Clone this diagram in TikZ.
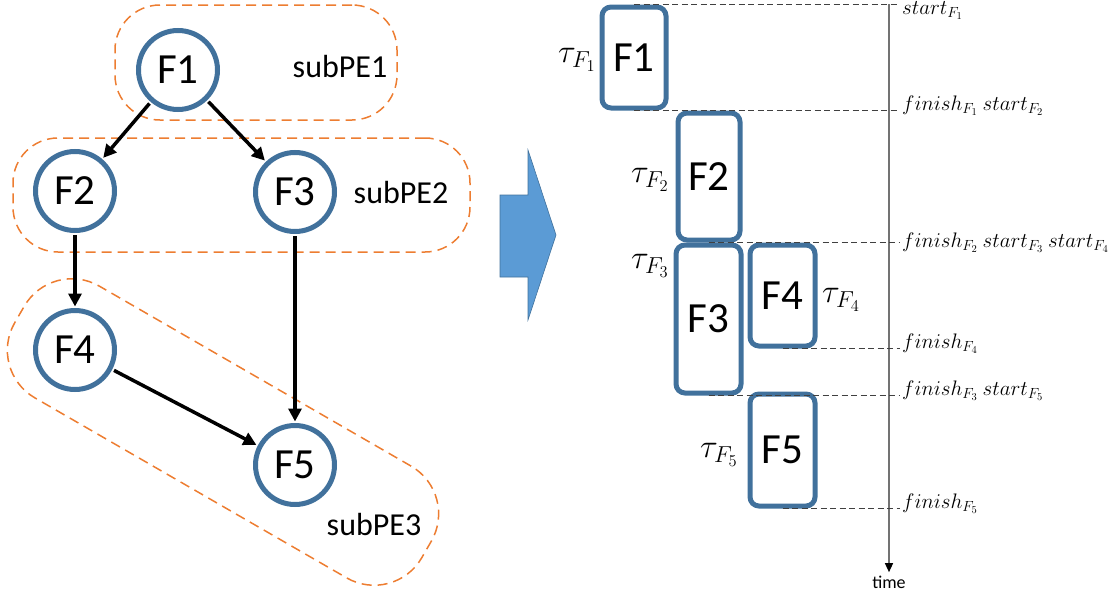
\RequirePackage{fix-cm}
\documentclass[tikz,border=0pt]{standalone}
\usepackage{fontspec}
\setmainfont{Carlito}
\usetikzlibrary{arrows.meta,positioning}

\definecolor{fblue}{HTML}{41719C}
\definecolor{ablue}{HTML}{5B9BD5}
\definecolor{peorange}{HTML}{ED7D31}

\newcommand{\tvar}{
\def\ax{889}   % time axis
\def\lx{900}   % left end of time labels
}
\newcommand{\fsize}{\fontsize{43}{50}\selectfont}
\newcommand{\tsize}{\fontsize{33}{38}\selectfont}
\newcommand{\lsize}{\fontsize{21}{24}\selectfont}

\tikzset{
  fcirc/.style={circle,draw=fblue,line width=5pt,fill=white,minimum size=79pt,inner sep=0pt,font=\fsize},
  fbox/.style={rectangle,rounded corners=9pt,draw=fblue,line width=5pt,fill=white,inner sep=0pt,font=\fsize},
  subpe/.style={rectangle,draw=peorange,line width=1.5pt,dash pattern=on 10pt off 6pt,rounded corners=45pt,inner sep=0pt},
  pelbl/.style={font=\fontsize{32}{38}\selectfont},
  dep/.style={line width=3.5pt,-{Triangle[length=13pt,width=13pt]},shorten >=1.5pt,shorten <=2pt},
  tline/.style={draw=black!75,line width=0.9pt,dash pattern=on 6pt off 3.5pt},
  taxis/.style={draw=black!55,line width=1.3pt,-{Triangle[length=9pt,width=8pt,color=black]}},
  tlbl/.style={anchor=mid west,inner sep=2pt,font=\lsize},
  tau/.style={inner sep=1pt,font=\tsize},
}

\begin{document}
\begin{tikzpicture}[x=1pt,y=-1pt]
  \tvar
  \useasboundingbox (0,0) rectangle (1110,597);
  % sub PEs
  \node[subpe,minimum width=282pt,minimum height=115pt] (pe1) at (256,62.5) {};
  \node[subpe,minimum width=457pt,minimum height=114pt] (pe2) at (241.5,195) {};
  \node[subpe,minimum width=470pt,minimum height=129pt,rotate=-30,rounded corners=55pt] (pe3) at (223,432) {};
  \node[pelbl] (pe1l) at (340,67) {subPE1};
  \node[pelbl] (pe2l) at (401,193) {subPE2};
  \node[pelbl] (pe3l) at (374,524) {subPE3};
%
  \node[fcirc] (f1) at (178,70)  {F1};
  \node[fcirc] (f2) at (75,191)  {F2};
  \node[fcirc] (f3) at (295,192) {F3};
  \node[fcirc] (f4) at (75,350)  {F4};
  \node[fcirc] (f5) at (295,465) {F5};
  \draw[dep] (f1) -- (f2);
  \draw[dep] (f1) -- (f3);
  \draw[dep] (f2) -- (f4);
  \draw[dep] (f3) -- (f5);
  \draw[dep] (f4) -- (f5);
%
  \filldraw[fill=ablue,draw=fblue,line width=0.6pt] (500,195) -- (528,195) -- (528,150) -- (556,235)
    -- (528,320) -- (528,277) -- (500,277) -- cycle;
  % schedule
  \node[fbox,minimum width=64pt,minimum height=101pt] (b1) at (634,57.5)  {F1};
  \node[fbox,minimum width=62pt,minimum height=127pt] (b2) at (709,176.5) {F2};
  \node[fbox,minimum width=65pt,minimum height=148pt] (b3) at (708.5,319) {F3};
  \node[fbox,minimum width=65pt,minimum height=101pt] (b4) at (782.5,295.5) {F4};
  \node[fbox,minimum width=65pt,minimum height=112pt] (b5) at (782.5,450) {F5};
  \node[tau,anchor=east] (t1) at (597,60)  {$\tau_{F_1}$};
  \node[tau,anchor=east] (t2) at (670,180) {$\tau_{F_2}$};
  \node[tau,anchor=east] (t3) at (670,266) {$\tau_{F_3}$};
  \node[tau,anchor=west] (t4) at (821,300) {$\tau_{F_4}$};
  \node[tau,anchor=east] (t5) at (739,455) {$\tau_{F_5}$};
%
  \coordinate (tax) at (\ax,4);
  \node[font=\fontsize{18}{22}\selectfont] (tm) at (\ax,582) {time};
  \draw[taxis] (tax) -- (tm.north);
  \node[tlbl] (l1) at (\lx,12)  {$start_{F_1}$};
  \node[tlbl] (l2) at (\lx,108) {$finish_{F_1}$ $start_{F_2}$};
  \node[tlbl] (l3) at (\lx,245) {$finish_{F_2}$ $start_{F_3}$ $start_{F_4}$};
  \node[tlbl] (l4) at (\lx,346) {$finish_{F_4}$};
  \node[tlbl] (l5) at (\lx,393) {$finish_{F_3}$ $start_{F_5}$};
  \node[tlbl] (l6) at (\lx,506) {$finish_{F_5}$};
  \draw[tline] (b1.north) -- (b1.north -| l1.west);
  \draw[tline] (b1.south) -- (b1.south -| l2.west);
  \draw[tline] (b3.north) -- (b3.north -| l3.west);
  \draw[tline] (b4.south) -- (b4.south -| l4.west);
  \draw[tline] (b3.south) -- (b3.south -| l5.west);
  \draw[tline] (b5.south) -- (b5.south -| l6.west);
\end{tikzpicture}
\end{document}
